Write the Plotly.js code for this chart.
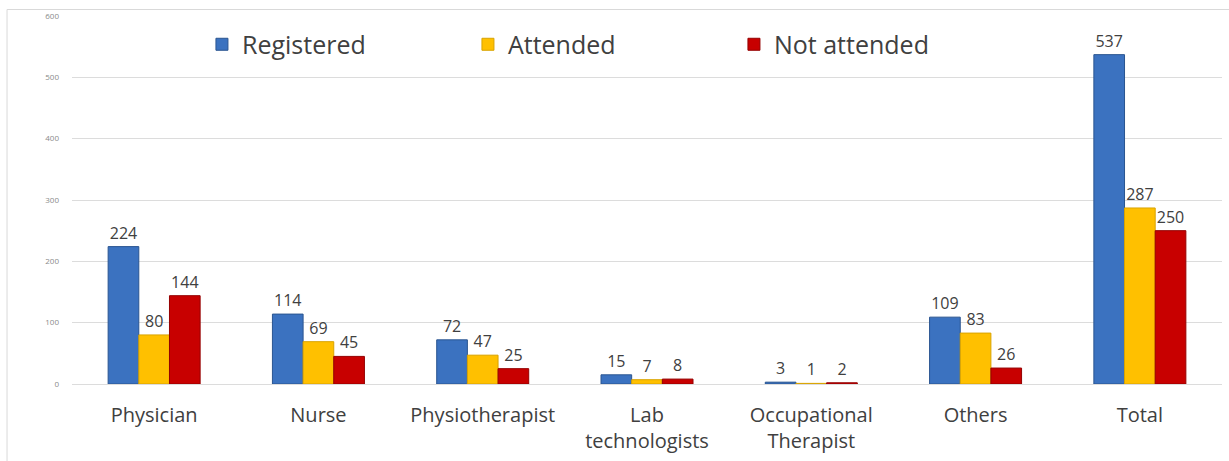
<!DOCTYPE html>
<html>
<head>
<meta charset="utf-8">
<script src="https://cdn.plot.ly/plotly-3.0.1.min.js"></script>
<style>
html,body{margin:0;padding:0;background:#fff;}
#chart{width:1229px;height:461px;}
</style>
</head>
<body>
<div id="chart"></div>
<script>
var categories = ["Physician", "Nurse", "Physiotherapist", "Lab<br>technologists", "Occupational<br>Therapist", "Others", "Total"];
var registered = [224, 114, 72, 15, 3, 109, 537];
var attended = [80, 69, 47, 7, 1, 83, 287];
var notAttended = [144, 45, 25, 8, 2, 26, 250];
var seriesNames = ["Registered", "Attended", "Not attended"];
var yTicks = [0, 100, 200, 300, 400, 500, 600];

var colors = ["#3b72c0", "#ffc000", "#c80000"];
var lines = ["#2a5590", "#d9a300", "#950000"];
var seriesData = [registered, attended, notAttended];
var fontFam = "'Open Sans', sans-serif";

var traces = seriesData.map(function(vals, i){
  return {
    type: "bar",
    name: seriesNames[i],
    x: categories,
    y: vals,
    text: vals.map(String),
    textposition: "outside",
    textfont: {family: fontFam, size: 16, color: "#404040"},
    cliponaxis: false,
    marker: {color: colors[i], line: {color: lines[i], width: 1}}
  };
});

var layout = {
  width: 1229, height: 461,
  margin: {l: 72, r: 7, t: 16, b: 77, pad: 0},
  paper_bgcolor: "#ffffff",
  plot_bgcolor: "#ffffff",
  font: {family: fontFam, color: "#404040"},
  barmode: "group",
  bargap: 0.44,
  bargroupgap: 0,
  showlegend: true,
  legend: {
    orientation: "h",
    x: 0.113, y: 0.985, xanchor: "left", yanchor: "top",
    bgcolor: "rgba(0,0,0,0)",
    font: {family: fontFam, size: 25, color: "#404040"},
    entrywidth: 221, entrywidthmode: "pixels",
    traceorder: "normal"
  },
  xaxis: {
    type: "category",
    tickfont: {family: fontFam, size: 20, color: "#404040"},
    showline: false,
    ticks: "",
    showgrid: false,
    ticklabelstandoff: 17
  },
  yaxis: {
    range: [0, 600],
    tickvals: yTicks,
    ticktext: yTicks.map(String),
    tickfont: {size: 8, color: "#8a8a8a"},
    showgrid: true,
    gridcolor: "#dcdcdc",
    gridwidth: 1,
    zeroline: true,
    zerolinecolor: "#dcdcdc",
    showline: false,
    ticks: "",
    ticklabelstandoff: 12
  },
  shapes: [{
    type: "path", xref: "paper", yref: "paper",
    path: "M -0.0565,-0.25 L -0.0565,1.0177 L 1.01,1.0177",
    line: {color: "#d9d9d9", width: 1}
  }]
};

Plotly.newPlot("chart", traces, layout, {displayModeBar: false, staticPlot: true});
</script>
</body>
</html>
